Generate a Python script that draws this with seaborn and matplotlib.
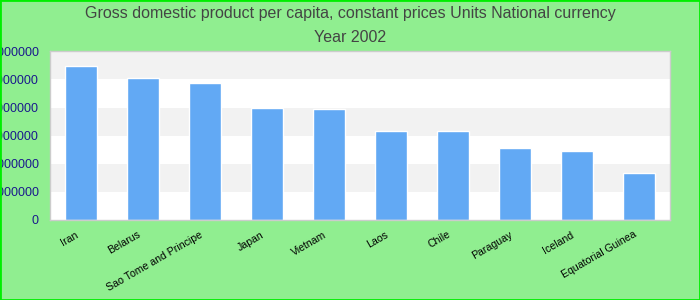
import matplotlib
matplotlib.use("Agg")
import matplotlib.pyplot as plt
import matplotlib.transforms as mtransforms
import seaborn as sns
import pandas as pd
from matplotlib.patches import Rectangle

countries = ["Iran", "Belarus", "Sao Tome and Principe", "Japan", "Vietnam",
             "Laos", "Chile", "Paraguay", "Iceland", "Equatorial Guinea"]
values = [54900000, 50600000, 48800000, 39900000, 39500000,
          31700000, 31700000, 25700000, 24600000, 16800000]
yticks = [0, 10000000, 20000000, 30000000, 40000000, 50000000, 60000000]

df = pd.DataFrame({"country": countries, "value": values})

sns.set_style("white")
plt.rcParams['font.family'] = ['Liberation Sans', 'DejaVu Sans']

fig = plt.figure(figsize=(7, 3), dpi=100, facecolor="#90EE90")
ax = fig.add_axes([50/700, 80/300, 620/700, 168.7/300])
ax.set_facecolor("white")

# alternating bands
for i in range(len(yticks) - 1):
    if i % 2 == 1:
        ax.axhspan(yticks[i], yticks[i + 1], color="#f2f2f2", zorder=0, lw=0)

sns.barplot(data=df, x="country", y="value", color="#62a9f4", saturation=1,
            width=0.52, ax=ax, zorder=2)

ax.set_ylim(0, 60000000)
ax.set_yticks(yticks)
ax.set_yticklabels([str(v) for v in yticks], color="#1a1a8c", fontsize=9)
ax.tick_params(axis="y", length=0, pad=8)
ax.tick_params(axis="x", length=0, pad=4)
offset = mtransforms.ScaledTranslation(-6/100, -4/100, fig.dpi_scale_trans)
for lab in ax.get_xticklabels():
    lab.set_rotation(30)
    lab.set_ha("right")
    lab.set_rotation_mode("anchor")
    lab.set_fontsize(7.6)
    lab.set_color("black")
    lab.set_transform(lab.get_transform() + offset)
ax.set_xlabel("")
ax.set_ylabel("")
for s in ax.spines.values():
    s.set_color("#cccccc")
    s.set_linewidth(1)

fig.suptitle("Gross domestic product per capita, constant prices Units National currency\nYear 2002",
             y=0.98, fontsize=11.5, color="#444444", linespacing=1.75)

fig.patches.append(Rectangle((0, 0), 1, 1, transform=fig.transFigure,
                             fill=False, edgecolor="#00ee00", lw=2))
fig.savefig("out.png", dpi=100, facecolor=fig.get_facecolor())
